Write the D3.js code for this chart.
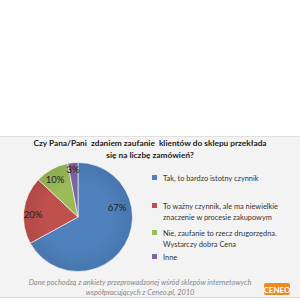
<!DOCTYPE html>
<html><head><meta charset="utf-8">
<script src="https://cdn.jsdelivr.net/npm/d3@7"></script>
<style>html,body{margin:0;padding:0;background:#fff;}svg{display:block;}</style>
</head><body>
<svg id="c" width="300" height="300"></svg>
<script>
const categories = ["Tak, to bardzo istotny czynnik",
  "To ważny czynnik, ale ma niewielkie|znaczenie w procesie zakupowym",
  "Nie, zaufanie to rzecz drugorzędna.|Wystarczy dobra Cena",
  "Inne"];
const values = [67, 20, 10, 3];
const colors = ["#4F81BD", "#C0504D", "#9BBB59", "#8064A2"];
const titleLines = ["Czy Pana/Pani  zdaniem zaufanie  klientów do sklepu przekłada", "się na liczbę zamówień?"];
const footerLines = ["Dane pochodzą z ankiety przeprowadzonej wśród sklepów internetowych", "współpracujących z Ceneo.pl, 2010"];

const svg = d3.select("#c");
const font = "Lato, 'Open Sans', sans-serif";

// panel
svg.append("rect").attr("x",0).attr("y",136).attr("width",300).attr("height",161)
  .attr("fill","#f3f3f3");
svg.append("line").attr("x1",0).attr("x2",300).attr("y1",136.5).attr("y2",136.5).attr("stroke","#e0e0e0");
svg.append("line").attr("x1",0).attr("x2",300).attr("y1",297.5).attr("y2",297.5).attr("stroke","#d8d8d8");

// title
svg.append("g").selectAll("text").data(titleLines).join("text")
  .attr("x",150).attr("y",(d,i)=>146+i*12).attr("text-anchor","middle")
  .attr("font-family",font).attr("font-weight","bold").attr("font-size",8.3).attr("fill","#222")
  .attr("xml:space","preserve").text(d=>d);

// pie
const cx = 78, cy = 217, r = 54.5;
const pie = d3.pie().sort(null).value(d=>d);
const arc = d3.arc().innerRadius(0).outerRadius(r);
const g = svg.append("g").attr("transform",`translate(${cx},${cy})`);
const defs = svg.append("defs");
colors.forEach((c,i)=>{
  const gr = defs.append("radialGradient").attr("id","g"+i).attr("gradientUnits","userSpaceOnUse")
    .attr("cx",0).attr("cy",0).attr("r",r);
  gr.append("stop").attr("offset","0.6").attr("stop-color",c);
  gr.append("stop").attr("offset","1").attr("stop-color",d3.color(c).darker(0.25));
});
const arcs = pie(values);
g.selectAll("path").data(arcs).join("path")
  .attr("d",arc).attr("fill",(d,i)=>"url(#g"+i+")").attr("stroke","#fff").attr("stroke-width",0.6);

// label positions relative to the pie centre (placement only)
const labelOffsets = [[39,-9],[-45,-2],[-23,-37],[-5,-47]];
g.selectAll("text").data(arcs).join("text")
  .attr("x",(d,i)=>labelOffsets[i][0])
  .attr("y",(d,i)=>labelOffsets[i][1]+3.3)
  .attr("text-anchor","middle").attr("font-family",font).attr("font-size",9.5).attr("fill","#222")
  .text(d=>d.value+"%");

// legend
const legY = [178, 206, 233, 257];
const leg = svg.append("g");
categories.forEach((c,i)=>{
  leg.append("rect").attr("x",152).attr("y",legY[i]-3).attr("width",5).attr("height",5).attr("fill",colors[i]);
  c.split("|").forEach((line,j)=>{
    leg.append("text").attr("x",163).attr("y",legY[i]+2.5+j*11)
      .attr("font-family",font).attr("font-size",7.4).attr("fill","#333").text(line);
  });
});

// footer
svg.append("g").selectAll("text").data(footerLines).join("text")
  .attr("x",140).attr("y",(d,i)=>285+i*10).attr("text-anchor","middle")
  .attr("font-family",font).attr("font-style","italic").attr("font-size",7.4).attr("fill","#888")
  .text(d=>d);

// CENEO logo
svg.append("rect").attr("x",264).attr("y",283).attr("width",26).attr("height",12).attr("rx",2)
  .attr("fill","#f08a1c");
svg.append("text").attr("x",277).attr("y",292.5).attr("text-anchor","middle")
  .attr("font-family",font).attr("font-weight","bold").attr("font-size",8).attr("fill","#fff").text("CENEO");
</script>
</body></html>
